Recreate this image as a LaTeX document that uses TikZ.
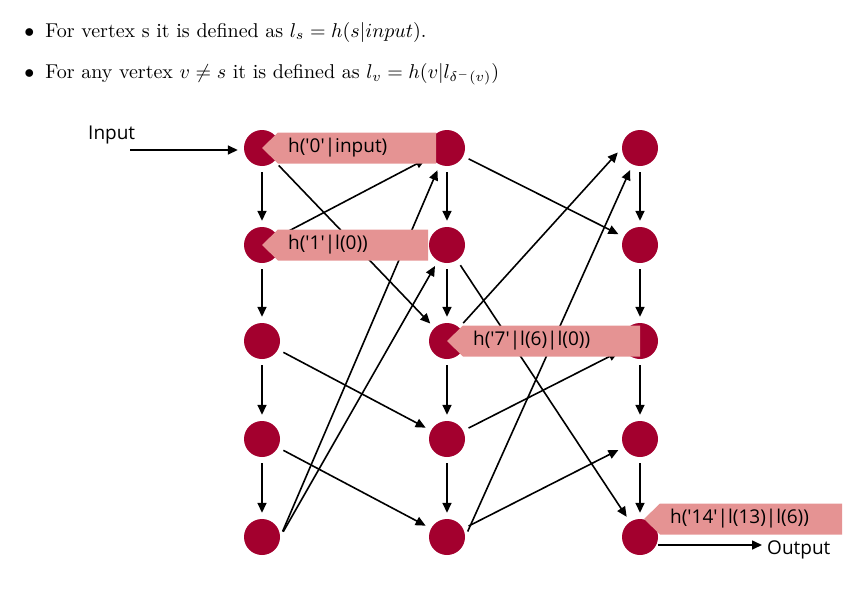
\documentclass[tikz,border=0pt]{standalone}
\usepackage{fontspec}
\newfontfamily\diagfont{Open Sans}
\usetikzlibrary{arrows.meta}
\definecolor{vertex}{HTML}{A3002E}
\definecolor{tag}{HTML}{E59393}
\tikzset{%
    vert/.style={circle, fill=vertex, minimum size=36pt, inner sep=0pt},
    edge/.style={-{Triangle[length=10pt, width=9pt]}, line width=1.6pt,
        shorten <=6pt, shorten >=6pt},
    tagtext/.style={anchor=west, inner sep=0pt,
        font=\diagfont\fontsize{19}{22}\selectfont},
    item/.style={anchor=base west, inner sep=0pt, scale=2.0, transform shape}
}

\begin{document}
\begin{tikzpicture}[x=1pt, y=-1pt]

    \useasboundingbox (0, 0) rectangle (862, 605);

    %%%%%%%%%%%%
    % Definitions
    \node[item] (item-s) at (24, 37)
        {$\bullet$\hspace{5.5pt}For vertex s it is defined as $l_s = h(s|input)$.};
    \node[item] (item-v) at (24, 78)
        {$\bullet$\hspace{5.5pt}For any vertex $v \neq s$ it is defined as
        $l_v = h(v|l_{\delta^-(v)})$};

    %%%%%%%%%%%%
    % Vertices
    \foreach \col/\x in {A/262, B/447, C/640}{%
        \foreach \row/\y in {0/148, 1/245, 2/341, 3/439, 4/537}{%
            \node[vert] (\col\row) at (\x, \y) {};
        };
    };

    % Edges
    \foreach \col in {A, B, C}{%
        \foreach \row/\next in {0/1, 1/2, 2/3, 3/4}{%
            \draw[edge] (\col\row) -- (\col\next);
        };
    };
    \foreach \src/\dst in {%
        A0/B2, A1/B0, A2/B3, A3/B4, A4.east/B0, A4.east/B1,%
        B0/C1, B1/C4, B2/C0.west, B3/C2, B4.east/C0, B4/C3%
    }{%
        \draw[edge] (\src) -- (\dst);
    };

    % Input and output
    \node[anchor=base west, inner sep=0pt, font=\diagfont\fontsize{19}{22}\selectfont]
        (input) at (88, 139) {Input};
    \coordinate (input-tail) at (130, 150);
    \draw[edge, shorten <=0pt] (input-tail) -- (A0.west |- input-tail);

    \node[anchor=base west, inner sep=0pt, font=\diagfont\fontsize{19}{22}\selectfont]
        (output) at (767, 554) {Output};
    \coordinate (output-head) at (762, 545);
    \draw[edge, shorten <=0pt, shorten >=0pt] (C4.east |- output-head) -- (output-head);

    %%%%%%%%%%%%
    % Labels
    \coordinate (tip-14) at ([xshift=4pt, yshift=18pt] C4.center);
    \foreach \i/\tip/\len/\txt in {%
        0/A0.center/174/{h('0'|input)},
        1/A1.center/166/{h('1'|l(0))},
        7/B2.center/193/{h('7'|l(6)|l(0))},
        14/tip-14/198/{h('14'|l(13)|l(6))}%
    }{%
        \fill[tag] (\tip) -- ++(16, -15.5) -- ++(\len - 16, 0) -- ++(0, 31)
            -- ++(16 - \len, 0) -- cycle;
        \node[tagtext] (tag-\i) at ([xshift=26pt] \tip) {\txt};
    };

\end{tikzpicture}
\end{document}
